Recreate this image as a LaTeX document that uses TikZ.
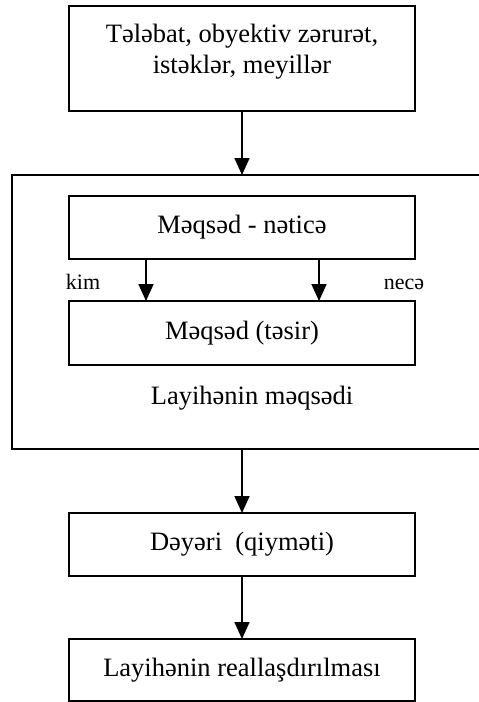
\documentclass[tikz,border=0pt]{standalone}
\usepackage{fontspec}
\setmainfont{Liberation Serif}
\usetikzlibrary{arrows.meta}
\tikzset{
  box/.style={draw, line width=1.8pt, minimum width=346pt, inner sep=0pt, outer sep=0pt},
  maintext/.style={font=\fontsize{26.5pt}{31pt}\selectfont, align=center, inner sep=0pt},
  smalltext/.style={font=\fontsize{22pt}{26pt}\selectfont, inner sep=0pt},
  conn/.style={line width=1.8pt, -{Triangle[length=17pt,width=15pt]}}
}
\begin{document}
\begin{tikzpicture}[x=1pt,y=-1pt]
\useasboundingbox (0,0) rectangle (479,702);
\clip (0,0) rectangle (479,702);
% top box
\node[box, minimum height=105pt] (top) at (242,58.5) {};
\node[maintext, anchor=base] (toptext) at (242,73) {Tələbat, obyektiv zərurət,\\istəklər, meyillər};
% big frame (right edge outside the picture)
\node[box, minimum width=478pt, minimum height=274pt] (big) at (251,312) {};
% inner boxes
\node[box, minimum height=63pt] (goalres) at (242,227.5) {};
\node[maintext] at (goalres) {Məqsəd - nəticə};
\node[box, minimum height=64pt] (goal) at (242,333) {};
\node[maintext] at (goal) {Məqsəd (təsir)};
\coordinate (a1) at (146,259);
\coordinate (a2) at (319,259);
\node[smalltext, anchor=base] (kim) at (83,289) {kim};
\node[smalltext, anchor=base] (nece) at (404,289) {necə};
\node[maintext, anchor=base] (projgoal) at (252,404) {Layihənin məqsədi};
% lower boxes
\node[box, minimum height=63pt] (value) at (242,544.5) {};
\node[maintext] at (value) {Dəyəri~ (qiyməti)};
\node[box, minimum height=62pt] (real) at (242,670) {};
\node[maintext] at (real) {Layihənin reallaşdırılması};
% connectors
\draw[conn] (top.south) -- (top.south |- big.north);
\draw[conn] (goalres.south -| a1) -- (goal.north -| a1);
\draw[conn] (goalres.south -| a2) -- (goal.north -| a2);
\draw[conn] (big.south -| value.north) -- (value.north);
\draw[conn] (value.south) -- (real.north);
\end{tikzpicture}
\end{document}
